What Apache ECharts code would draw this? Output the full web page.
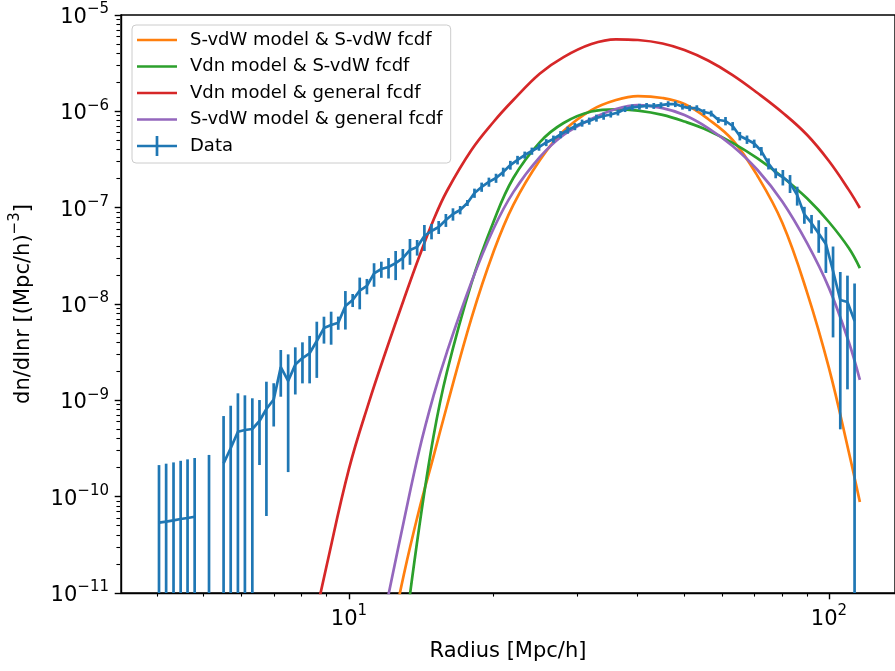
<!DOCTYPE html>
<html><head><meta charset="utf-8">
<script src="https://cdn.jsdelivr.net/npm/echarts@6/dist/echarts.min.js"></script>
<style>html,body{margin:0;padding:0;background:#fff}#c{width:895px;height:671px}</style>
</head><body><div id="c"></div>
<script>
const FONT = 'DejaVu Sans';
// ---- data (radius bins, measured dn/dlnr and symmetric errors) ----
const radius = [4.02,4.16,4.31,4.46,4.61,4.77,4.94,5.11,5.29,5.48,5.67,5.87,6.07,6.29,6.51,6.73,6.97,7.21,7.47,7.73,8.00,8.28,8.57,8.87,9.18,9.50,9.83,10.18,10.53,10.90,11.28,11.68,12.09,12.51,12.95,13.40,13.87,14.36,14.86,15.38,15.92,16.47,17.05,17.65,18.26,18.90,19.57,20.25,20.96,21.69,22.45,23.24,24.05,24.89,25.76,26.67,27.60,28.56,29.56,30.60,31.67,32.78,33.93,35.11,36.34,37.61,38.93,40.29,41.70,43.16,44.67,46.24,47.86,49.53,51.26,53.06,54.92,56.84,58.83,60.89,63.02,65.22,67.50,69.87,72.31,74.84,77.46,80.17,82.98,85.88,88.89,92.00,95.22,98.55,102.0,105.6,109.3,113.1];
const dataY = [5.37e-11,5.50e-11,5.68e-11,5.86e-11,6.00e-11,6.19e-11,null,6.72e-11,null,2.22e-10,
 3.18e-10,4.72e-10,4.92e-10,5.04e-10,6.10e-10,8.12e-10,1.02e-9,2.21e-9,1.59e-9,2.35e-9,
 2.75e-9,3.08e-9,4.13e-9,5.63e-9,6.05e-9,6.40e-9,9.53e-9,1.10e-8,1.38e-8,1.54e-8,
 2.08e-8,2.31e-8,2.42e-8,2.66e-8,3.00e-8,3.64e-8,3.90e-8,5.08e-8,5.73e-8,6.30e-8,
 7.45e-8,8.59e-8,9.46e-8,1.12e-7,1.42e-7,1.64e-7,1.85e-7,2.03e-7,2.35e-7,2.77e-7,
 3.13e-7,3.52e-7,3.87e-7,4.26e-7,4.75e-7,5.16e-7,5.75e-7,6.40e-7,6.96e-7,7.57e-7,
 7.94e-7,8.53e-7,8.94e-7,9.27e-7,9.73e-7,1.057e-6,1.10e-6,1.12e-6,1.14e-6,1.14e-6,
 1.16e-6,1.19e-6,1.19e-6,1.12e-6,1.08e-6,1.08e-6,9.84e-7,9.50e-7,8.13e-7,7.94e-7,
 7.04e-7,5.55e-7,5.10e-7,4.63e-7,3.87e-7,2.87e-7,2.29e-7,2.08e-7,1.80e-7,1.35e-7,
 8.5e-8,6.9e-8,5.4e-8,4.2e-8,2.20e-8,1.10e-8,1.05e-8,6.66e-9];
const dataErr = [1.59e-10,1.65e-10,1.70e-10,1.77e-10,1.84e-10,1.90e-10,null,2.04e-10,null,4.65e-10,
 5.61e-10,7.11e-10,6.35e-10,5.46e-10,3.97e-10,7.49e-10,4.85e-10,1.12e-9,1.41e-9,1.20e-9,
 1.25e-9,1.58e-9,2.42e-9,1.75e-9,2.27e-9,1.0e-9,4.1e-9,1.7e-9,5.0e-9,2.8e-9,
 5.7e-9,4.4e-9,5.8e-9,8.9e-9,7.2e-9,1.09e-8,7.2e-9,1.53e-8,1.04e-8,9.7e-9,
 1.14e-8,1.26e-8,9.4e-9,8e-9,1.56e-8,1.8e-8,2.0e-8,2.2e-8,2.5e-8,2.9e-8,
 3.2e-8,3.0e-8,3.3e-8,3.6e-8,4.0e-8,4.4e-8,4.9e-8,5.4e-8,5.9e-8,6.4e-8,
 6.7e-8,7.2e-8,7.6e-8,6.5e-8,6.8e-8,7.4e-8,7.7e-8,7.8e-8,8.0e-8,8.0e-8,
 8.1e-8,8.3e-8,8.3e-8,7.8e-8,7.6e-8,7.6e-8,6.9e-8,6.7e-8,5.7e-8,7.9e-8,
 7.0e-8,5.6e-8,5.1e-8,4.6e-8,3.9e-8,3.8e-8,2.7e-8,3.8e-8,3.8e-8,3.0e-8,
 1.7e-8,1.5e-8,2.0e-8,2.1e-8,1.75e-8,1.05e-8,9.2e-9,9.7e-9];
// ---- model curves ----
const modelR = [8,9,10,11,12,13,14,15,16,18,20,22,25,28,32,36,40,45,50,56,63,71,80,90,100,110,116];
const svdwSvdw = [null,null,null,null,2.17e-12,1.52e-11,7.27e-11,2.61e-10,8.73e-10,7.15e-9,3.47e-8,1.07e-7,3.13e-7,6.25e-7,1.03e-6,1.31e-6,1.44e-6,1.375e-6,1.19e-6,8.33e-7,5.04e-7,2.13e-7,6.93e-8,1.33e-8,2.17e-9,2.91e-10,8.80e-11];
const vdnSvdw = [null,null,null,null,null,3.0e-12,4.73e-11,4.21e-10,1.97e-9,1.65e-8,7.10e-8,2.03e-7,4.80e-7,7.57e-7,9.96e-7,1.05e-6,1.015e-6,9.18e-7,7.84e-7,6.34e-7,4.70e-7,3.24e-7,2.08e-7,1.25e-7,7.10e-8,3.81e-8,2.36e-8];
const vdnGeneral = [1.37e-12,2.0e-11,1.94e-10,9.47e-10,3.49e-9,1.10e-8,3.07e-8,7.45e-8,1.49e-7,3.97e-7,7.75e-7,1.31e-6,2.47e-6,3.66e-6,5.0e-6,5.59e-6,5.50e-6,5.06e-6,4.33e-6,3.37e-6,2.38e-6,1.55e-6,9.73e-7,5.71e-7,3.05e-7,1.53e-7,9.92e-8];
const svdwGeneral = [null,null,null,null,8.06e-12,5.46e-11,2.98e-10,1.11e-9,3.17e-9,1.69e-8,6.00e-8,1.45e-7,3.36e-7,5.68e-7,8.33e-7,1.057e-6,1.16e-6,1.08e-6,9.16e-7,6.71e-7,4.37e-7,2.46e-7,1.15e-7,4.30e-8,1.47e-8,4.03e-9,1.63e-9];
const seriesNames = ['S-vdW model & S-vdW fcdf','Vdn model & S-vdW fcdf','Vdn model & general fcdf','S-vdW model & general fcdf','Data'];
// ---- axes / ticks ----
const X_MIN = 3.35, X_MAX = 137.3, Y_MIN = 1e-11, Y_MAX = 1e-5;
const xMajorTicks = [10, 100];
const xMinorTicks = [4,5,6,7,8,9,20,30,40,50,60,70,80,90];
const yMajorTicks = [1e-11,1e-10,1e-9,1e-8,1e-7,1e-6,1e-5];
const mantissas = [2,3,4,5,6,7,8,9];
const yMinorTicks = [];
yMajorTicks.slice(0, -1).forEach(d => mantissas.forEach(m => yMinorTicks.push(+(m * d).toPrecision(3))));

const C = {orange:'#ff7f0e', green:'#2ca02c', red:'#d62728', purple:'#9467bd', blue:'#1f77b4'};
const LW = 2.7;
const LINE_ICON = 'path://M0,0h0.01v0.01h-0.01z M47.99,19.99h0.01v0.01h-0.01z M0,8.65h40v2.7h-40z';
const DATA_ICON = 'path://M0,0h0.01v0.01h-0.01z M47.99,19.99h0.01v0.01h-0.01z M0,8.65h40v2.7h-40z M18.65,0h2.7v20h-2.7z';

function pow10Label(v) {
  const e = Math.round(Math.log10(v));
  return '{b|10}{s|' + String(e).replace('-', '\u2212') + '}';
}
const tickRich = {
  b: {fontFamily: FONT, fontSize: 21, lineHeight: 26, verticalAlign: 'bottom', color: '#000'},
  s: {fontFamily: FONT, fontSize: 15, lineHeight: 14, verticalAlign: 'top', color: '#000'}
};
const GRID = {left: 120, top: 15, width: 777, height: 578};

function modelSeries(name, ys, color) {
  return {
    name, type: 'line', xAxisIndex: 0, yAxisIndex: 0,
    data: modelR.map((r, i) => [r, ys[i]]),
    showSymbol: false, symbol: 'none', smooth: 0.4, connectNulls: false,
    lineStyle: {color, width: LW}, itemStyle: {color}, z: 2, clip: true
  };
}

const chart = echarts.init(document.getElementById('c'), null, {renderer: 'canvas'});
chart.setOption({
  animation: false,
  backgroundColor: '#fff',
  grid: [
    Object.assign({show: true, borderColor: '#000', borderWidth: 1.4, backgroundColor: 'transparent'}, GRID),
    Object.assign({show: false}, GRID)
  ],
  legend: {
    orient: 'vertical', left: 132, top: 25, padding: [5, 8, 7, 5],
    itemWidth: 48, itemHeight: 20, itemGap: 6.5, selectedMode: false,
    backgroundColor: 'rgba(255,255,255,0.8)', borderColor: '#cccccc', borderWidth: 1, borderRadius: 4,
    itemStyle: {borderWidth: 0},
    textStyle: {fontFamily: FONT, fontSize: 18, color: '#000', lineHeight: 20},
    data: seriesNames.map((n, i) => ({name: n, icon: i === 4 ? DATA_ICON : LINE_ICON}))
  },
  xAxis: [
    {gridIndex: 0, type: 'log', logBase: 10, min: X_MIN, max: X_MAX,
     name: 'Radius [Mpc/h]', nameLocation: 'middle', nameGap: 48,
     nameTextStyle: {fontFamily: FONT, fontSize: 21, color: '#000'},
     axisLine: {show: true, lineStyle: {color: '#000', width: 1.4}},
     axisTick: {show: true, customValues: xMajorTicks, length: 6.3, lineStyle: {color: '#000', width: 1.4}},
     axisLabel: {show: true, customValues: xMajorTicks, margin: 11, formatter: pow10Label, rich: tickRich},
     splitLine: {show: false}, minorTick: {show: false}},
    {gridIndex: 1, type: 'log', logBase: 10, min: X_MIN, max: X_MAX,
     axisLine: {show: false},
     axisTick: {show: true, customValues: xMinorTicks, length: 3.6, lineStyle: {color: '#000', width: 1.1}},
     axisLabel: {show: false}, splitLine: {show: false}}
  ],
  yAxis: [
    {gridIndex: 0, type: 'log', logBase: 10, min: Y_MIN, max: Y_MAX,
     name: '{n|dn/dlnr [(Mpc/h)}{s|\u22123}{n|]}', nameLocation: 'middle', nameGap: 87, nameRotate: 90,
     nameTextStyle: {fontFamily: FONT, fontSize: 21, color: '#000', rich: {
       n: {fontFamily: FONT, fontSize: 21, lineHeight: 26, verticalAlign: 'bottom', color: '#000'},
       s: {fontFamily: FONT, fontSize: 15, lineHeight: 14, verticalAlign: 'top', color: '#000'}}},
     axisLine: {show: true, lineStyle: {color: '#000', width: 1.4}},
     axisTick: {show: true, customValues: yMajorTicks, length: 6.3, lineStyle: {color: '#000', width: 1.4}},
     axisLabel: {show: true, customValues: yMajorTicks, margin: 12, formatter: pow10Label, rich: tickRich},
     splitLine: {show: false}},
    {gridIndex: 1, type: 'log', logBase: 10, min: Y_MIN, max: Y_MAX,
     axisLine: {show: false},
     axisTick: {show: true, customValues: yMinorTicks, length: 3.6, lineStyle: {color: '#000', width: 1.1}},
     axisLabel: {show: false}, splitLine: {show: false}}
  ],
  series: [
    modelSeries(seriesNames[0], svdwSvdw, C.orange),
    modelSeries(seriesNames[1], vdnSvdw, C.green),
    modelSeries(seriesNames[2], vdnGeneral, C.red),
    modelSeries(seriesNames[3], svdwGeneral, C.purple),
    {
      name: 'Data', type: 'line', xAxisIndex: 0, yAxisIndex: 0,
      data: radius.map((r, i) => [r, dataY[i] == null ? '-' : dataY[i]]),
      showSymbol: false, symbol: 'none', connectNulls: false,
      lineStyle: {color: C.blue, width: LW}, itemStyle: {color: C.blue}, z: 3, clip: true
    },
    {
      name: 'Data', type: 'custom', xAxisIndex: 0, yAxisIndex: 0, clip: true, z: 3,
      itemStyle: {color: C.blue},
      data: radius.map((r, i) => dataY[i] == null ? null : [r, dataY[i], dataErr[i]]).filter(Boolean),
      encode: {x: 0, y: 1},
      renderItem: function (params, api) {
        const r = api.value(0), y = api.value(1), e = api.value(2);
        const top = api.coord([r, y + e]);
        const cs = params.coordSys;
        const lo = y - e;
        const bottom = lo > 0 ? api.coord([r, lo])[1] : cs.y + cs.height + 10;
        return {type: 'line', shape: {x1: top[0], y1: top[1], x2: top[0], y2: bottom},
                style: {stroke: C.blue, lineWidth: LW}};
      }
    }
  ]
});
</script></body></html>
